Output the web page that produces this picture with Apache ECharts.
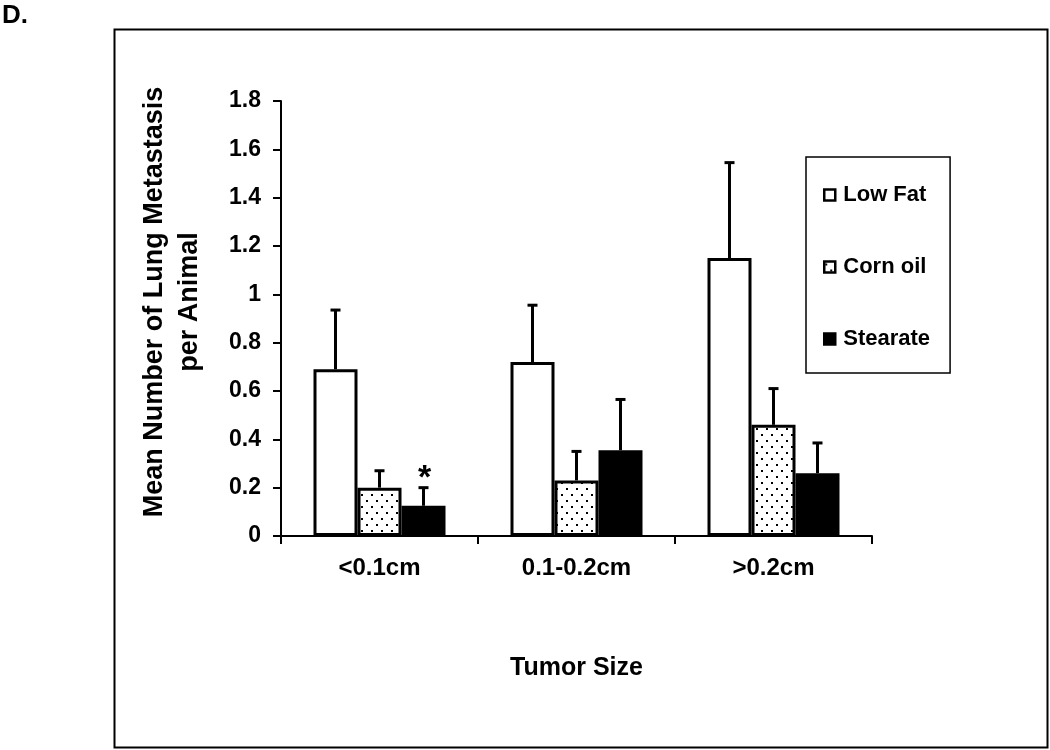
<!DOCTYPE html>
<html>
<head>
<meta charset="utf-8">
<script src="https://cdn.jsdelivr.net/npm/echarts@6/dist/echarts.min.js"></script>
<style>
  html, body { margin: 0; padding: 0; background: #fff; }
  #chart { width: 1050px; height: 750px; }
</style>
</head>
<body>
<div id="chart"></div>
<script>
// ---- data ----
const categories = ['<0.1cm', '0.1-0.2cm', '>0.2cm'];
const seriesNames = ['Low Fat', 'Corn oil', 'Stearate'];
const lowFat = [0.69, 0.72, 1.15];
const lowFatErr = [0.245, 0.235, 0.395];
const cornOil = [0.20, 0.23, 0.46];
const cornOilErr = [0.07, 0.12, 0.15];
const stearate = [0.125, 0.355, 0.26];
const stearateErr = [0.075, 0.21, 0.125];
const stearateMarks = ['*', '', ''];
const yTickLabels = ['0', '0.2', '0.4', '0.6', '0.8', '1', '1.2', '1.4', '1.6', '1.8'];
const xTitle = 'Tumor Size';
const yTitle = 'Mean Number of Lung Metastasis\nper Animal';
const panelLabel = 'D.';

// ---- styling ----
const FONT = '"Liberation Sans", Arial, sans-serif';
const BAR_W = 44;

// dotted pattern for Corn oil
const pc = document.createElement('canvas');
pc.width = 10; pc.height = 12;
const pctx = pc.getContext('2d');
pctx.fillStyle = '#fff'; pctx.fillRect(0, 0, 10, 12);
pctx.fillStyle = '#000';
pctx.fillRect(1, 2, 2, 2);
pctx.fillRect(6, 8, 2, 2);
const dotPattern = { image: pc, repeat: 'repeat' };

const fills = ['#ffffff', dotPattern, '#000000'];
const values = [lowFat, cornOil, stearate];
const errs = [lowFatErr, cornOilErr, stearateErr];
const marks = [['', '', ''], ['', '', ''], stearateMarks];

const barSeries = seriesNames.map((name, s) => ({
  name: name,
  type: 'bar',
  barWidth: BAR_W,
  barGap: '0%',
  data: values[s],
  itemStyle: { color: fills[s], borderColor: '#000', borderWidth: 3 },
  z: 2
}));

const errSeries = seriesNames.map((name, s) => ({
  type: 'custom',
  z: 3,
  data: values[s].map((v, i) => [i, v, errs[s][i]]),
  encode: { x: 0, y: 1 },
  renderItem: function (params, api) {
    const cat = api.value(0), v = api.value(1), e = api.value(2);
    const base = api.coord([cat, v]);
    const top = api.coord([cat, v + e]);
    const x = base[0] + (s - 1) * BAR_W;
    const children = [
      { type: 'line', shape: { x1: x, y1: base[1], x2: x, y2: top[1] },
        style: { stroke: '#000', lineWidth: 3 } },
      { type: 'line', shape: { x1: x - 5, y1: top[1], x2: x + 5, y2: top[1] },
        style: { stroke: '#000', lineWidth: 3 } }
    ];
    const m = marks[s][params.dataIndex];
    if (m) {
      children.push({ type: 'text', style: {
        text: m, x: x + 1, y: top[1] - 9, align: 'center', verticalAlign: 'middle',
        font: 'bold 34px ' + FONT, fill: '#000' } });
    }
    return { type: 'group', children: children };
  }
}));

const chart = echarts.init(document.getElementById('chart'), null, { renderer: 'canvas' });
chart.setOption({
  animation: false,
  backgroundColor: '#fff',
  grid: { left: 281, right: 178, top: 101, bottom: 214, containLabel: false },
  legend: {
    data: seriesNames,
    orient: 'vertical',
    left: 806, top: 157,
    icon: 'rect',
    itemWidth: 11, itemHeight: 11,
    itemGap: 50,
    selectedMode: false,
    padding: [27, 20, 23, 17],
    borderColor: '#000', borderWidth: 1.5,
    itemStyle: { borderWidth: 2.5, borderColor: '#000' },
    textStyle: { fontFamily: FONT, fontWeight: 'bold', fontSize: 22, color: '#000', padding: [0, 0, 0, 3] }
  },
  xAxis: {
    type: 'category',
    data: categories,
    boundaryGap: true,
    name: xTitle,
    nameLocation: 'middle',
    nameGap: 120,
    nameTextStyle: { fontFamily: FONT, fontWeight: 'bold', fontSize: 25, color: '#000' },
    axisLine: { lineStyle: { color: '#000', width: 2 } },
    axisTick: { show: true, length: 8, inside: false, alignWithLabel: false, lineStyle: { color: '#000', width: 2 } },
    axisLabel: { margin: 20, fontFamily: FONT, fontWeight: 'bold', fontSize: 24, color: '#000' },
    splitLine: { show: false }
  },
  yAxis: {
    type: 'value',
    min: 0, max: 1.8, interval: 0.2,
    axisLine: { show: true, lineStyle: { color: '#000', width: 2 } },
    axisTick: { show: true, length: 8, inside: false, lineStyle: { color: '#000', width: 2 } },
    axisLabel: {
      margin: 20, fontFamily: FONT, fontWeight: 'bold', fontSize: 23, color: '#000',
      formatter: function (val) { return yTickLabels[Math.round(val / 0.2)]; }
    },
    splitLine: { show: false }
  },
  graphic: [
    { type: 'rect', left: 112, top: 27, silent: true,
      shape: { width: 933, height: 718 },
      style: { fill: 'none', stroke: '#000', lineWidth: 2 } },
    { type: 'text', x: 2, y: 3, silent: true,
      style: { text: panelLabel, font: 'bold 26px ' + FONT, fill: '#000' } },
    { type: 'text', x: 172, y: 302, rotation: Math.PI / 2, silent: true,
      style: { text: yTitle, font: 'bold 27px ' + FONT, lineHeight: 35, fill: '#000',
               align: 'center', verticalAlign: 'middle' } }
  ],
  series: barSeries.concat(errSeries)
});
</script>
</body>
</html>
